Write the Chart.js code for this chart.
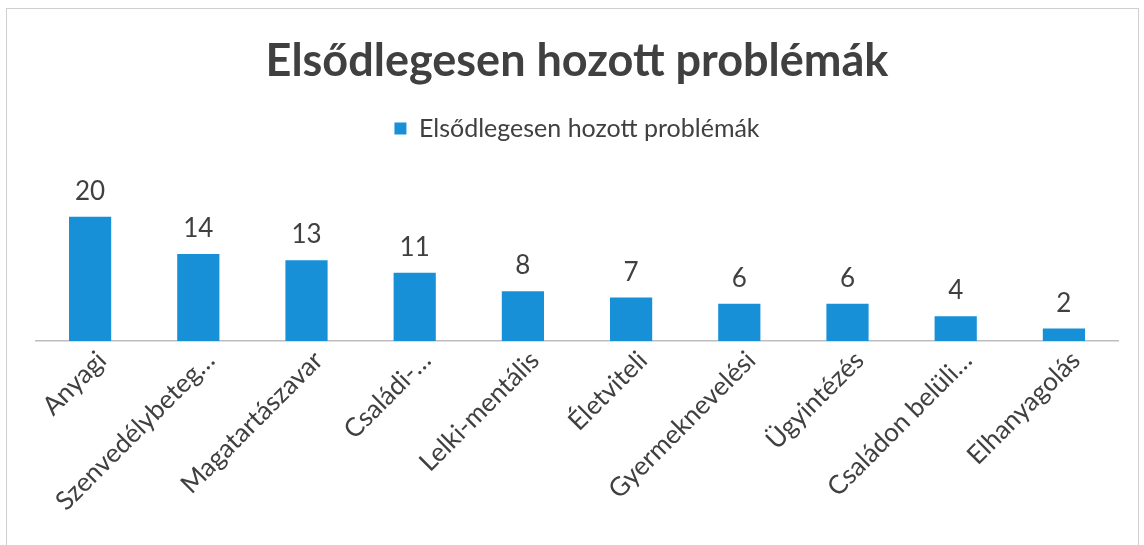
<!DOCTYPE html>
<html>
<head>
<meta charset="utf-8">
<script src="https://cdn.jsdelivr.net/npm/chart.js@4/dist/chart.umd.min.js"></script>
<style>
    body { margin: 0; background: #fff; }
    #wrap { position: relative; width: 1144px; height: 545px; }
    #frame { position: absolute; left: 6px; top: 8px; width: 1131px; height: 560px; border: 1px solid #cfcfcf; pointer-events: none; }
</style>
<script>
    var categories = ["Anyagi", "Szenvedélybeteg…", "Magatartászavar", "Családi-…", "Lelki-mentális",
        "Életviteli", "Gyermeknevelési", "Ügyintézés", "Családon belüli…", "Elhanyagolás"];
    var values = [20, 14, 13, 11, 8, 7, 6, 6, 4, 2];
    var seriesName = "Elsődlegesen hozott problémák";
    var chartTitle = "Elsődlegesen hozott problémák";
</script>
</head>
<body>
<div id="wrap">
    <canvas id="chart" width="1144" height="545"></canvas>
    <div id="frame"></div>
</div>
<script>
    var valueLabels = {
        id: 'valueLabels',
        afterDatasetsDraw: function(chart) {
            var ctx = chart.ctx;
            var meta = chart.getDatasetMeta(0);
            ctx.save();
            ctx.font = '26px Lato';
            ctx.fillStyle = '#404040';
            ctx.textAlign = 'center';
            ctx.textBaseline = 'alphabetic';
            meta.data.forEach(function(bar, i) {
                ctx.fillText(values[i], bar.x, bar.y - 17);
            });
            ctx.restore();
        }
    };

    new Chart(document.getElementById('chart'), {
        type: 'bar',
        data: {
            labels: categories,
            datasets: [{
                label: seriesName,
                data: values,
                backgroundColor: '#1790d8',
                categoryPercentage: 0.39,
                barPercentage: 1
            }]
        },
        options: {
            responsive: false,
            animation: false,
            layout: { padding: { left: 36, right: 26, top: 0, bottom: 0 } },
            plugins: {
                title: {
                    display: true,
                    text: chartTitle,
                    color: '#404040',
                    font: { family: 'Lato', size: 45, weight: 'bold' },
                    padding: { top: 34, bottom: 18 }
                },
                legend: {
                    display: true,
                    labels: {
                        color: '#404040',
                        font: { family: 'Lato', size: 25 },
                        boxWidth: 12,
                        boxHeight: 12,
                        padding: 10
                    }
                },
                tooltip: { enabled: false }
            },
            scales: {
                x: {
                    grid: { display: false },
                    border: { display: true, color: '#bdbdbd', width: 1.5 },
                    ticks: {
                        color: '#404040',
                        font: { family: 'Lato', size: 26 },
                        minRotation: 45,
                        maxRotation: 45,
                        autoSkip: false,
                        padding: -4,
                        labelOffset: 12
                    },
                    afterFit: function(scale) { scale.height = 545 - 341; }
                },
                y: {
                    display: false,
                    min: 0,
                    max: 30.6
                }
            }
        },
        plugins: [valueLabels]
    });
</script>
</body>
</html>
